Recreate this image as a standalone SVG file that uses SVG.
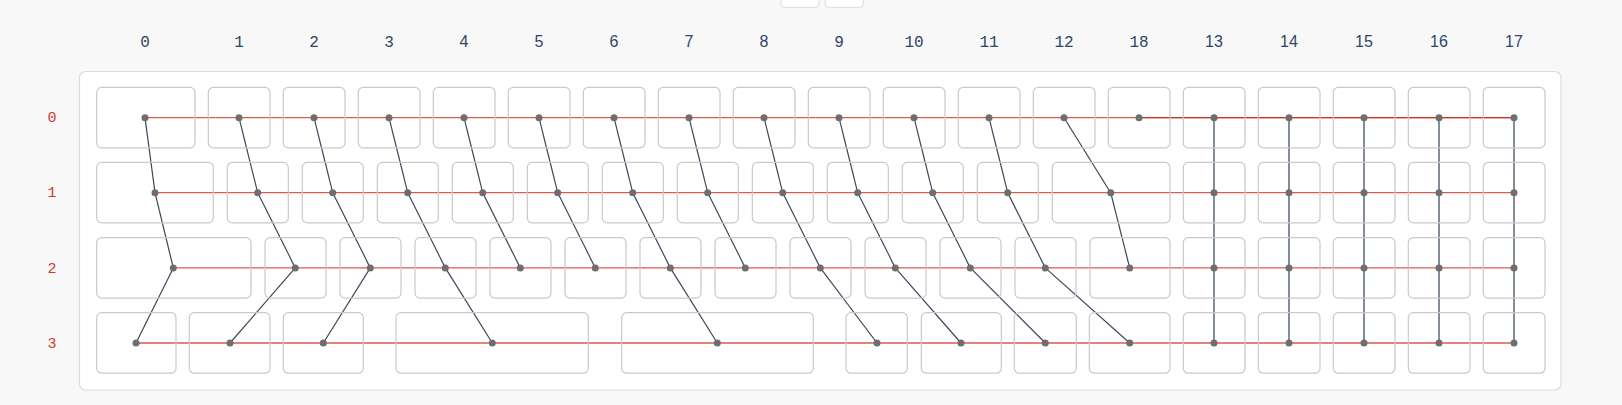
<svg xmlns="http://www.w3.org/2000/svg" width="1622" height="405" viewBox="0 0 1622 405">
<style>
.bg{fill:#f8f8f8}
.panel{fill:#fff;stroke:#dcdcdc;stroke-width:1.2}
.btn{fill:#fff;stroke:#dcdcdc;stroke-width:1}
.box{fill:none;stroke:#c9c9c9;stroke-width:1.2}
.dot{fill:#6e6e6e}
.row{stroke:#dc5a4e;stroke-width:1.3;fill:none}
.rowd{stroke:#cc3328;stroke-width:1.3;fill:none}
.edge{stroke:#3a4758;stroke-width:1.2;fill:none}
.vert{stroke:#73808e;stroke-width:1.8;fill:none}
.cm{font-family:"Liberation Mono",monospace;font-size:16px;fill:#2e4666;text-anchor:middle}
.cs{font-family:"Liberation Sans",Arial,sans-serif;font-size:16px;fill:#2e4666;text-anchor:middle}
.rl{font-family:"Liberation Mono",monospace;font-size:15px;fill:#cf3a30;text-anchor:middle}
</style>
<rect class="bg" x="0" y="0" width="1622" height="405"/>
<rect class="btn" x="781" y="-6" width="38" height="13.3" rx="3"/>
<rect class="btn" x="825.3" y="-6" width="38" height="13.3" rx="3"/>
<rect class="panel" x="79.5" y="71.5" width="1481.5" height="318.5" rx="6"/>
<g id="col-labels">
<text class="cm" x="145" y="47">0</text>
<text class="cm" x="239" y="47">1</text>
<text class="cm" x="314" y="47">2</text>
<text class="cm" x="389" y="47">3</text>
<text class="cs" x="464" y="47">4</text>
<text class="cs" x="539" y="47">5</text>
<text class="cs" x="614" y="47">6</text>
<text class="cs" x="689" y="47">7</text>
<text class="cs" x="764" y="47">8</text>
<text class="cm" x="839" y="47">9</text>
<text class="cm" x="914" y="47">10</text>
<text class="cm" x="989" y="47">11</text>
<text class="cm" x="1064" y="47">12</text>
<text class="cm" x="1139" y="47">18</text>
<text class="cs" x="1214" y="47">13</text>
<text class="cs" x="1289" y="47">14</text>
<text class="cs" x="1364" y="47">15</text>
<text class="cs" x="1439" y="47">16</text>
<text class="cs" x="1514" y="47">17</text>
</g>
<g id="row-labels">
<text class="rl" x="52" y="122.3">0</text>
<text class="rl" x="52" y="197.3">1</text>
<text class="rl" x="52" y="272.5">2</text>
<text class="rl" x="52" y="347.6">3</text>
</g>
<g id="connectors">
<line class="row" x1="145" y1="117.7" x2="1514" y2="117.7"/>
<line class="rowd" x1="1139" y1="117.7" x2="1514" y2="117.7"/>
<line class="row" x1="155" y1="192.7" x2="1514" y2="192.7"/>
<line class="row" x1="173.3" y1="267.9" x2="1514" y2="267.9"/>
<line class="row" x1="136" y1="343" x2="1514" y2="343"/>
<line class="edge" x1="145" y1="117.7" x2="155" y2="192.7"/>
<line class="edge" x1="239" y1="117.7" x2="257.7" y2="192.7"/>
<line class="edge" x1="314" y1="117.7" x2="332.7" y2="192.7"/>
<line class="edge" x1="389" y1="117.7" x2="407.7" y2="192.7"/>
<line class="edge" x1="464" y1="117.7" x2="482.7" y2="192.7"/>
<line class="edge" x1="539" y1="117.7" x2="557.7" y2="192.7"/>
<line class="edge" x1="614" y1="117.7" x2="632.7" y2="192.7"/>
<line class="edge" x1="689" y1="117.7" x2="707.7" y2="192.7"/>
<line class="edge" x1="764" y1="117.7" x2="782.7" y2="192.7"/>
<line class="edge" x1="839" y1="117.7" x2="857.7" y2="192.7"/>
<line class="edge" x1="914" y1="117.7" x2="932.7" y2="192.7"/>
<line class="edge" x1="989" y1="117.7" x2="1007.7" y2="192.7"/>
<line class="edge" x1="1064" y1="117.7" x2="1110.7" y2="192.7"/>
<line class="edge" x1="155" y1="192.7" x2="173.3" y2="267.9"/>
<line class="edge" x1="257.7" y1="192.7" x2="295.3" y2="267.9"/>
<line class="edge" x1="332.7" y1="192.7" x2="370.3" y2="267.9"/>
<line class="edge" x1="407.7" y1="192.7" x2="445.3" y2="267.9"/>
<line class="edge" x1="482.7" y1="192.7" x2="520.3" y2="267.9"/>
<line class="edge" x1="557.7" y1="192.7" x2="595.3" y2="267.9"/>
<line class="edge" x1="632.7" y1="192.7" x2="670.3" y2="267.9"/>
<line class="edge" x1="707.7" y1="192.7" x2="745.3" y2="267.9"/>
<line class="edge" x1="782.7" y1="192.7" x2="820.3" y2="267.9"/>
<line class="edge" x1="857.7" y1="192.7" x2="895.3" y2="267.9"/>
<line class="edge" x1="932.7" y1="192.7" x2="970.3" y2="267.9"/>
<line class="edge" x1="1007.7" y1="192.7" x2="1045.3" y2="267.9"/>
<line class="edge" x1="1110.7" y1="192.7" x2="1129.7" y2="267.9"/>
<line class="edge" x1="173.3" y1="267.9" x2="136" y2="343"/>
<line class="edge" x1="295.3" y1="267.9" x2="230" y2="343"/>
<line class="edge" x1="370.3" y1="267.9" x2="323.3" y2="343"/>
<line class="edge" x1="445.3" y1="267.9" x2="492.3" y2="343"/>
<line class="edge" x1="670.3" y1="267.9" x2="717.3" y2="343"/>
<line class="edge" x1="820.3" y1="267.9" x2="877" y2="343"/>
<line class="edge" x1="895.3" y1="267.9" x2="961" y2="343"/>
<line class="edge" x1="970.3" y1="267.9" x2="1045.3" y2="343"/>
<line class="edge" x1="1045.3" y1="267.9" x2="1129.7" y2="343"/>
<line class="vert" x1="1214" y1="117.7" x2="1214" y2="343"/>
<line class="vert" x1="1289" y1="117.7" x2="1289" y2="343"/>
<line class="vert" x1="1364" y1="117.7" x2="1364" y2="343"/>
<line class="vert" x1="1439" y1="117.7" x2="1439" y2="343"/>
<line class="vert" x1="1514" y1="117.7" x2="1514" y2="343"/>
</g>
<!-- row 0 -->
<g id="n0-0"><rect class="box" x="96.7" y="87.4" width="98.3" height="60.5" rx="5"/><circle class="dot" cx="145" cy="117.7" r="3.5"/></g>
<g id="n0-1"><rect class="box" x="208.3" y="87.4" width="61.7" height="60.5" rx="5"/><circle class="dot" cx="239" cy="117.7" r="3.5"/></g>
<g id="n0-2"><rect class="box" x="283.3" y="87.4" width="61.7" height="60.5" rx="5"/><circle class="dot" cx="314" cy="117.7" r="3.5"/></g>
<g id="n0-3"><rect class="box" x="358.3" y="87.4" width="61.7" height="60.5" rx="5"/><circle class="dot" cx="389" cy="117.7" r="3.5"/></g>
<g id="n0-4"><rect class="box" x="433.3" y="87.4" width="61.7" height="60.5" rx="5"/><circle class="dot" cx="464" cy="117.7" r="3.5"/></g>
<g id="n0-5"><rect class="box" x="508.3" y="87.4" width="61.7" height="60.5" rx="5"/><circle class="dot" cx="539" cy="117.7" r="3.5"/></g>
<g id="n0-6"><rect class="box" x="583.3" y="87.4" width="61.7" height="60.5" rx="5"/><circle class="dot" cx="614" cy="117.7" r="3.5"/></g>
<g id="n0-7"><rect class="box" x="658.3" y="87.4" width="61.7" height="60.5" rx="5"/><circle class="dot" cx="689" cy="117.7" r="3.5"/></g>
<g id="n0-8"><rect class="box" x="733.3" y="87.4" width="61.7" height="60.5" rx="5"/><circle class="dot" cx="764" cy="117.7" r="3.5"/></g>
<g id="n0-9"><rect class="box" x="808.3" y="87.4" width="61.7" height="60.5" rx="5"/><circle class="dot" cx="839" cy="117.7" r="3.5"/></g>
<g id="n0-10"><rect class="box" x="883.3" y="87.4" width="61.7" height="60.5" rx="5"/><circle class="dot" cx="914" cy="117.7" r="3.5"/></g>
<g id="n0-11"><rect class="box" x="958.3" y="87.4" width="61.7" height="60.5" rx="5"/><circle class="dot" cx="989" cy="117.7" r="3.5"/></g>
<g id="n0-12"><rect class="box" x="1033.3" y="87.4" width="61.7" height="60.5" rx="5"/><circle class="dot" cx="1064" cy="117.7" r="3.5"/></g>
<g id="n0-18"><rect class="box" x="1108.3" y="87.4" width="61.7" height="60.5" rx="5"/><circle class="dot" cx="1139" cy="117.7" r="3.5"/></g>
<g id="n0-13"><rect class="box" x="1183.3" y="87.4" width="61.7" height="60.5" rx="5"/><circle class="dot" cx="1214" cy="117.7" r="3.5"/></g>
<g id="n0-14"><rect class="box" x="1258.3" y="87.4" width="61.7" height="60.5" rx="5"/><circle class="dot" cx="1289" cy="117.7" r="3.5"/></g>
<g id="n0-15"><rect class="box" x="1333.3" y="87.4" width="61.7" height="60.5" rx="5"/><circle class="dot" cx="1364" cy="117.7" r="3.5"/></g>
<g id="n0-16"><rect class="box" x="1408.3" y="87.4" width="61.7" height="60.5" rx="5"/><circle class="dot" cx="1439" cy="117.7" r="3.5"/></g>
<g id="n0-17"><rect class="box" x="1483.3" y="87.4" width="61.7" height="60.5" rx="5"/><circle class="dot" cx="1514" cy="117.7" r="3.5"/></g>
<!-- row 1 -->
<g id="n1-0"><rect class="box" x="96.7" y="162.4" width="116.6" height="60.5" rx="5"/><circle class="dot" cx="155" cy="192.7" r="3.5"/></g>
<g id="n1-1"><rect class="box" x="227.3" y="162.4" width="61" height="60.5" rx="5"/><circle class="dot" cx="257.7" cy="192.7" r="3.5"/></g>
<g id="n1-2"><rect class="box" x="302.3" y="162.4" width="61" height="60.5" rx="5"/><circle class="dot" cx="332.7" cy="192.7" r="3.5"/></g>
<g id="n1-3"><rect class="box" x="377.3" y="162.4" width="61" height="60.5" rx="5"/><circle class="dot" cx="407.7" cy="192.7" r="3.5"/></g>
<g id="n1-4"><rect class="box" x="452.3" y="162.4" width="61" height="60.5" rx="5"/><circle class="dot" cx="482.7" cy="192.7" r="3.5"/></g>
<g id="n1-5"><rect class="box" x="527.3" y="162.4" width="61" height="60.5" rx="5"/><circle class="dot" cx="557.7" cy="192.7" r="3.5"/></g>
<g id="n1-6"><rect class="box" x="602.3" y="162.4" width="61" height="60.5" rx="5"/><circle class="dot" cx="632.7" cy="192.7" r="3.5"/></g>
<g id="n1-7"><rect class="box" x="677.3" y="162.4" width="61" height="60.5" rx="5"/><circle class="dot" cx="707.7" cy="192.7" r="3.5"/></g>
<g id="n1-8"><rect class="box" x="752.3" y="162.4" width="61" height="60.5" rx="5"/><circle class="dot" cx="782.7" cy="192.7" r="3.5"/></g>
<g id="n1-9"><rect class="box" x="827.3" y="162.4" width="61" height="60.5" rx="5"/><circle class="dot" cx="857.7" cy="192.7" r="3.5"/></g>
<g id="n1-10"><rect class="box" x="902.3" y="162.4" width="61" height="60.5" rx="5"/><circle class="dot" cx="932.7" cy="192.7" r="3.5"/></g>
<g id="n1-11"><rect class="box" x="977.3" y="162.4" width="61" height="60.5" rx="5"/><circle class="dot" cx="1007.7" cy="192.7" r="3.5"/></g>
<g id="n1-12"><rect class="box" x="1052.3" y="162.4" width="117.7" height="60.5" rx="5"/><circle class="dot" cx="1110.7" cy="192.7" r="3.5"/></g>
<g id="n1-13"><rect class="box" x="1183.3" y="162.4" width="61.7" height="60.5" rx="5"/><circle class="dot" cx="1214" cy="192.7" r="3.5"/></g>
<g id="n1-14"><rect class="box" x="1258.3" y="162.4" width="61.7" height="60.5" rx="5"/><circle class="dot" cx="1289" cy="192.7" r="3.5"/></g>
<g id="n1-15"><rect class="box" x="1333.3" y="162.4" width="61.7" height="60.5" rx="5"/><circle class="dot" cx="1364" cy="192.7" r="3.5"/></g>
<g id="n1-16"><rect class="box" x="1408.3" y="162.4" width="61.7" height="60.5" rx="5"/><circle class="dot" cx="1439" cy="192.7" r="3.5"/></g>
<g id="n1-17"><rect class="box" x="1483.3" y="162.4" width="61.7" height="60.5" rx="5"/><circle class="dot" cx="1514" cy="192.7" r="3.5"/></g>
<!-- row 2 -->
<g id="n2-0"><rect class="box" x="96.7" y="237.6" width="154.3" height="60.5" rx="5"/><circle class="dot" cx="173.3" cy="267.9" r="3.5"/></g>
<g id="n2-1"><rect class="box" x="265" y="237.6" width="61" height="60.5" rx="5"/><circle class="dot" cx="295.3" cy="267.9" r="3.5"/></g>
<g id="n2-2"><rect class="box" x="340" y="237.6" width="61" height="60.5" rx="5"/><circle class="dot" cx="370.3" cy="267.9" r="3.5"/></g>
<g id="n2-3"><rect class="box" x="415" y="237.6" width="61" height="60.5" rx="5"/><circle class="dot" cx="445.3" cy="267.9" r="3.5"/></g>
<g id="n2-4"><rect class="box" x="490" y="237.6" width="61" height="60.5" rx="5"/><circle class="dot" cx="520.3" cy="267.9" r="3.5"/></g>
<g id="n2-5"><rect class="box" x="565" y="237.6" width="61" height="60.5" rx="5"/><circle class="dot" cx="595.3" cy="267.9" r="3.5"/></g>
<g id="n2-6"><rect class="box" x="640" y="237.6" width="61" height="60.5" rx="5"/><circle class="dot" cx="670.3" cy="267.9" r="3.5"/></g>
<g id="n2-7"><rect class="box" x="715" y="237.6" width="61" height="60.5" rx="5"/><circle class="dot" cx="745.3" cy="267.9" r="3.5"/></g>
<g id="n2-8"><rect class="box" x="790" y="237.6" width="61" height="60.5" rx="5"/><circle class="dot" cx="820.3" cy="267.9" r="3.5"/></g>
<g id="n2-9"><rect class="box" x="865" y="237.6" width="61" height="60.5" rx="5"/><circle class="dot" cx="895.3" cy="267.9" r="3.5"/></g>
<g id="n2-10"><rect class="box" x="940" y="237.6" width="61" height="60.5" rx="5"/><circle class="dot" cx="970.3" cy="267.9" r="3.5"/></g>
<g id="n2-11"><rect class="box" x="1015" y="237.6" width="61" height="60.5" rx="5"/><circle class="dot" cx="1045.3" cy="267.9" r="3.5"/></g>
<g id="n2-12"><rect class="box" x="1090" y="237.6" width="80" height="60.5" rx="5"/><circle class="dot" cx="1129.7" cy="267.9" r="3.5"/></g>
<g id="n2-13"><rect class="box" x="1183.3" y="237.6" width="61.7" height="60.5" rx="5"/><circle class="dot" cx="1214" cy="267.9" r="3.5"/></g>
<g id="n2-14"><rect class="box" x="1258.3" y="237.6" width="61.7" height="60.5" rx="5"/><circle class="dot" cx="1289" cy="267.9" r="3.5"/></g>
<g id="n2-15"><rect class="box" x="1333.3" y="237.6" width="61.7" height="60.5" rx="5"/><circle class="dot" cx="1364" cy="267.9" r="3.5"/></g>
<g id="n2-16"><rect class="box" x="1408.3" y="237.6" width="61.7" height="60.5" rx="5"/><circle class="dot" cx="1439" cy="267.9" r="3.5"/></g>
<g id="n2-17"><rect class="box" x="1483.3" y="237.6" width="61.7" height="60.5" rx="5"/><circle class="dot" cx="1514" cy="267.9" r="3.5"/></g>
<!-- row 3 -->
<g id="n3-0"><rect class="box" x="96.7" y="312.7" width="79.3" height="60.5" rx="5"/><circle class="dot" cx="136" cy="343" r="3.5"/></g>
<g id="n3-1"><rect class="box" x="189.3" y="312.7" width="80.7" height="60.5" rx="5"/><circle class="dot" cx="230" cy="343" r="3.5"/></g>
<g id="n3-2"><rect class="box" x="283.3" y="312.7" width="80" height="60.5" rx="5"/><circle class="dot" cx="323.3" cy="343" r="3.5"/></g>
<g id="n3-3"><rect class="box" x="396" y="312.7" width="192.3" height="60.5" rx="5"/><circle class="dot" cx="492.3" cy="343" r="3.5"/></g>
<g id="n3-4"><rect class="box" x="621.7" y="312.7" width="191.6" height="60.5" rx="5"/><circle class="dot" cx="717.3" cy="343" r="3.5"/></g>
<g id="n3-5"><rect class="box" x="846" y="312.7" width="61.3" height="60.5" rx="5"/><circle class="dot" cx="877" cy="343" r="3.5"/></g>
<g id="n3-6"><rect class="box" x="921.3" y="312.7" width="80" height="60.5" rx="5"/><circle class="dot" cx="961" cy="343" r="3.5"/></g>
<g id="n3-7"><rect class="box" x="1014.3" y="312.7" width="62" height="60.5" rx="5"/><circle class="dot" cx="1045.3" cy="343" r="3.5"/></g>
<g id="n3-8"><rect class="box" x="1089.3" y="312.7" width="80.7" height="60.5" rx="5"/><circle class="dot" cx="1129.7" cy="343" r="3.5"/></g>
<g id="n3-13"><rect class="box" x="1183.3" y="312.7" width="61.7" height="60.5" rx="5"/><circle class="dot" cx="1214" cy="343" r="3.5"/></g>
<g id="n3-14"><rect class="box" x="1258.3" y="312.7" width="61.7" height="60.5" rx="5"/><circle class="dot" cx="1289" cy="343" r="3.5"/></g>
<g id="n3-15"><rect class="box" x="1333.3" y="312.7" width="61.7" height="60.5" rx="5"/><circle class="dot" cx="1364" cy="343" r="3.5"/></g>
<g id="n3-16"><rect class="box" x="1408.3" y="312.7" width="61.7" height="60.5" rx="5"/><circle class="dot" cx="1439" cy="343" r="3.5"/></g>
<g id="n3-17"><rect class="box" x="1483.3" y="312.7" width="61.7" height="60.5" rx="5"/><circle class="dot" cx="1514" cy="343" r="3.5"/></g>
</svg>
